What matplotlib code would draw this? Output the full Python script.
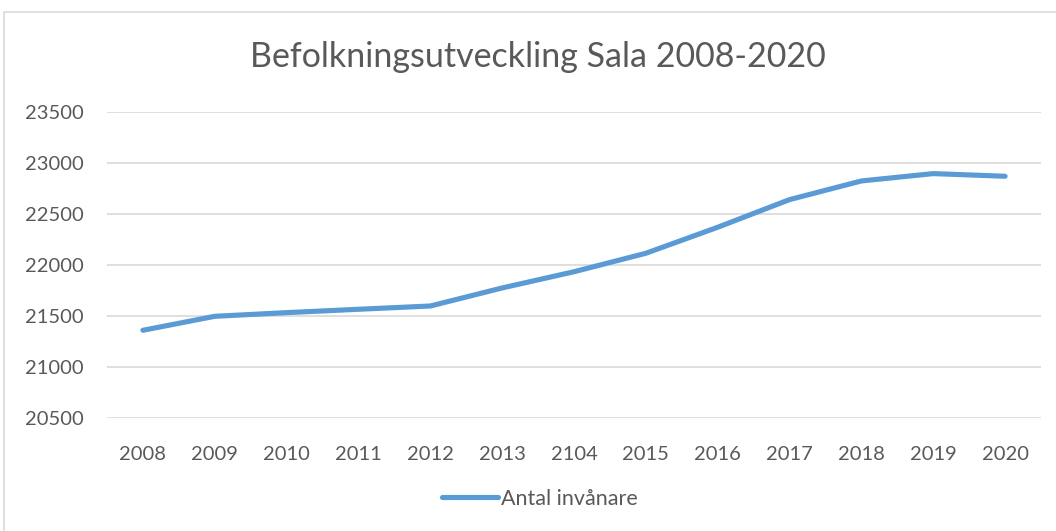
import numpy as np
import matplotlib
matplotlib.use('Agg')
import matplotlib.pyplot as plt
from matplotlib.patches import Rectangle

# DATA =========================================================================
years = ['2008', '2009', '2010', '2011', '2012', '2013', '2104',
         '2015', '2016', '2017', '2018', '2019', '2020']
population = [21360, 21497, 21533, 21566, 21598, 21775, 21934,
              22115, 22370, 22641, 22824, 22896, 22870]
y_ticks = [20500, 21000, 21500, 22000, 22500, 23000, 23500]

title = 'Befolkningsutveckling Sala 2008-2020'
series_label = 'Antal invånare'

# STYLE ========================================================================
plt.rcParams['font.family'] = ['Lato', 'DejaVu Sans']
text_color = '#595959'
grid_color = '#D9D9D9'
line_color = '#5B9BD5'

W, H = 1056, 531
fig = plt.figure(figsize=(W / 100, H / 100), dpi=100)

# chart frame
fig.patches.append(Rectangle((4 / W, -0.01), 1.2, 1 - 12 / H + 0.01,
                             transform=fig.transFigure, fill=False,
                             edgecolor=grid_color, linewidth=1.2))

# plot area in pixel terms
left, right = 107, 1041
top, bottom = 112, 418
ax = fig.add_axes([left / W, 1 - bottom / H, (right - left) / W, (bottom - top) / H])

x = np.arange(len(years))
ax.plot(x, population, color=line_color, linewidth=3.7,
        solid_capstyle='round', solid_joinstyle='round', label=series_label)

ax.set_xlim(-0.5, len(years) - 0.5)
ax.set_ylim(y_ticks[0], y_ticks[-1])
ax.set_yticks(y_ticks)
ax.set_xticks(x)
ax.set_xticklabels(years)

ax.grid(axis='y', color=grid_color, linewidth=1.2)
ax.set_axisbelow(True)
for s in ax.spines.values():
    s.set_visible(False)
ax.tick_params(length=0, colors=text_color, labelsize=14.5)
ax.tick_params(axis='x', pad=20)
ax.tick_params(axis='y', pad=17)

fig.text(538 / W, 1 - 57 / H, title, ha='center', va='center',
         fontsize=24.5, color=text_color)

leg = fig.legend(loc='center', bbox_to_anchor=(540 / W, 1 - 499 / H),
                 frameon=False, fontsize=15.5, handlelength=2.6,
                 handletextpad=0.15)
for t in leg.get_texts():
    t.set_color(text_color)

fig.savefig('out.png', dpi=100)
